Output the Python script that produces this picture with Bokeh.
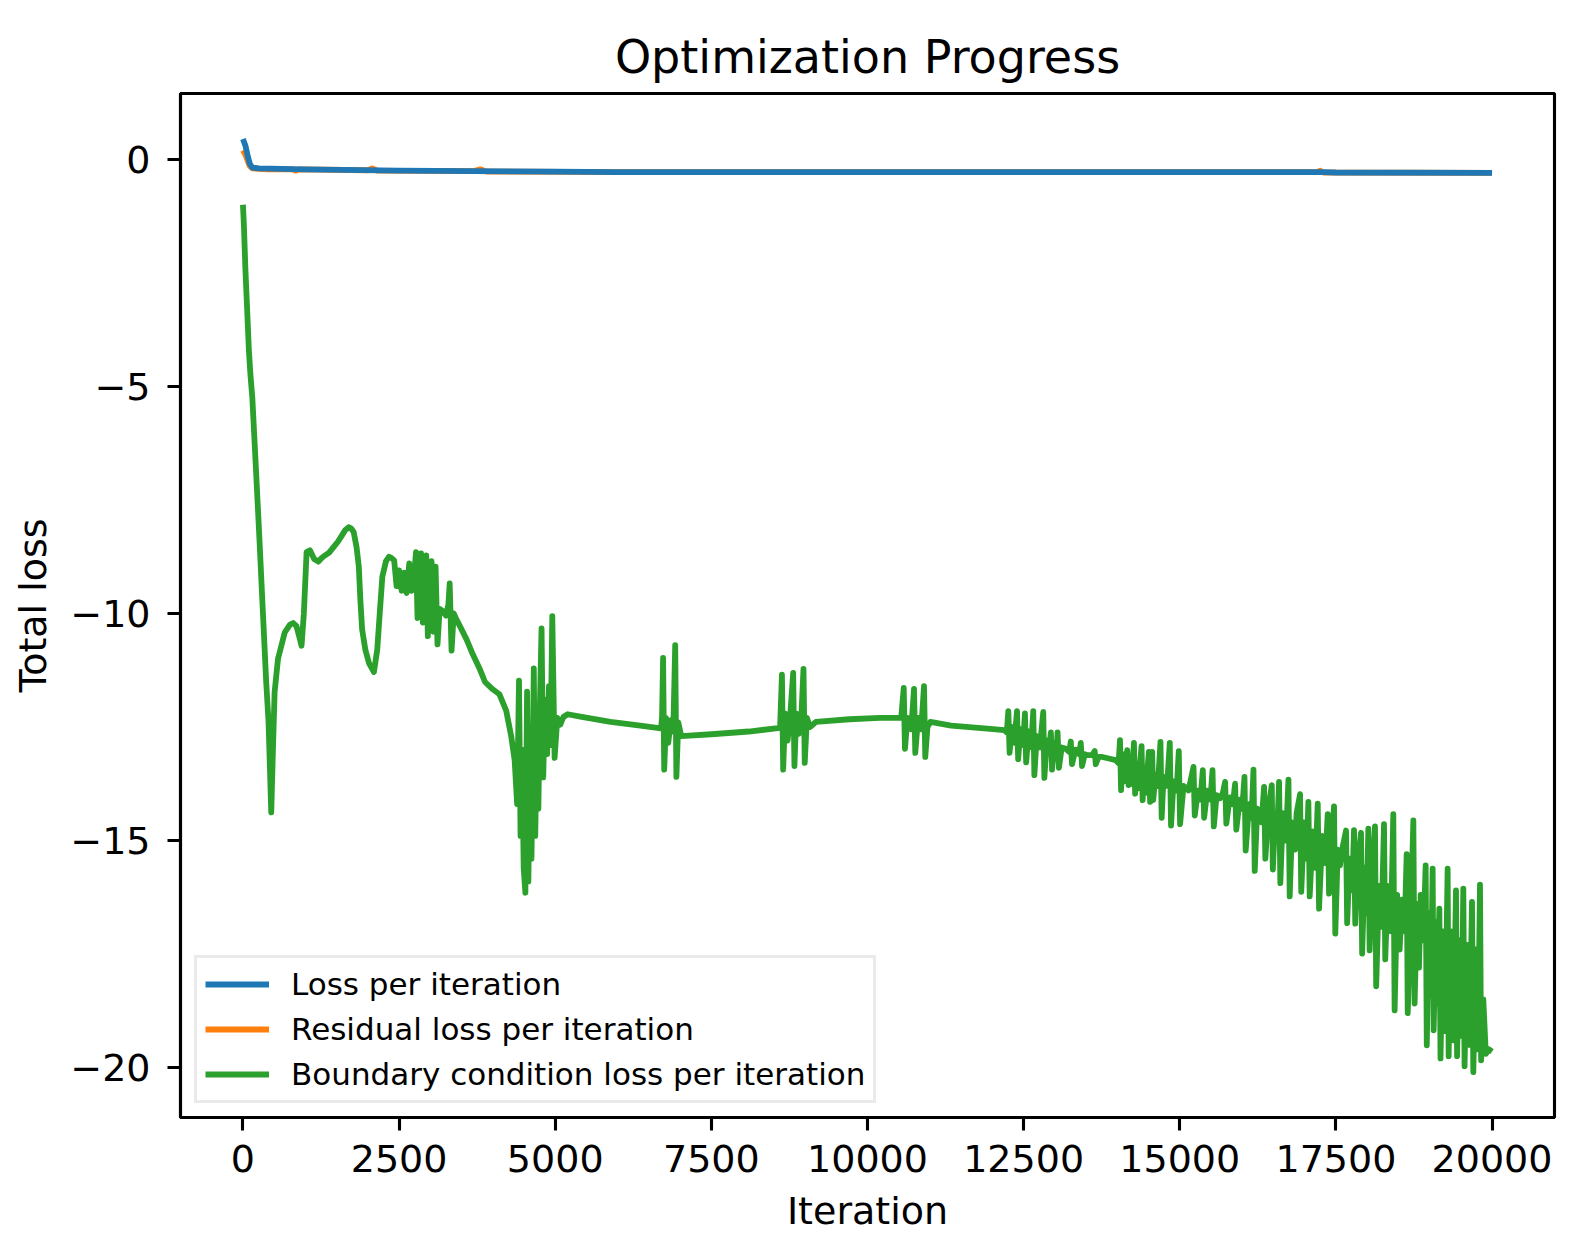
from bokeh.plotting import figure
from bokeh.models import Range1d, FixedTicker, Legend, LegendItem, CustomJSTickFormatter
from bokeh.embed import file_html
from bokeh.resources import INLINE

# ---- data (y = log10 of loss) ----
loss_iter = [0, 40, 80, 110, 150, 250, 1000, 2500, 5000, 6000, 10000, 15000, 17300, 17500, 20000]
loss_vals = [0.45, 0.30, 0.05, -0.10, -0.18, -0.20, -0.22, -0.25, -0.27, -0.28, -0.28, -0.28, -0.28, -0.29, -0.30]

residual_iter = [0, 40, 80, 110, 150, 400, 800, 840, 900, 2000, 2070, 2150, 3700, 3800, 3900, 6000, 17200, 17250, 17300, 20000]
residual_vals = [0.20, 0.10, -0.05, -0.15, -0.20, -0.22, -0.22, -0.25, -0.22, -0.24, -0.20, -0.25, -0.26, -0.22, -0.27, -0.28, -0.28, -0.25, -0.29, -0.30]

bc_iter = [
    0, 15, 40, 70, 95, 120, 150, 200, 260, 320, 372, 410, 453, 480, 507, 561, 669, 750, 804, 857,
    900, 938, 975, 1019, 1073, 1140, 1208, 1260, 1316, 1380, 1450, 1520, 1585, 1640, 1693, 1735, 1774, 1820, 1855, 1880,
    1908, 1960, 2020, 2097, 2150, 2190, 2232, 2290, 2340, 2380, 2421,
    2460, 2500, 2540, 2580, 2620, 2663, 2700, 2740, 2771, 2795, 2825, 2852, 2880, 2910, 2935, 2960, 2990, 3020, 3050, 3084,
    3115, 3150, 3200, 3250, 3290, 3310, 3340, 3375, 3418, 3500, 3580, 3680, 3784, 3876, 3999, 4107, 4215, 4296, 4350,
    4390, 4420, 4445, 4470, 4495, 4522, 4549, 4570, 4595, 4620, 4657, 4680, 4705, 4730, 4755, 4781, 4808, 4835, 4870, 4900,
    4925, 4953, 4990, 5034, 5080, 5131, 5200, 5401, 5886, 6300, 6694,
    6710, 6727, 6745, 6775, 6810, 6850, 6890, 6921, 6940, 6970, 7018, 7500, 8100, 8600,
    8630, 8650, 8680, 8720, 8760, 8810, 8830, 8860, 8900, 8940, 8975, 8995, 9030, 9080, 9173, 9713, 10200, 10540,
    10580, 10600, 10640, 10700, 10745, 10765, 10810, 10860, 10905, 10925, 10960, 11007, 11340, 11869, 12191,
    12230, 12255, 12275, 12310, 12350, 12394, 12412, 12450, 12490, 12521, 12540, 12580, 12620, 12654, 12672, 12710, 12760,
    12814, 12832, 12870, 12900, 12936, 12955, 12990, 13020, 13043, 13065, 13110, 13176, 13230, 13255, 13275, 13330, 13390,
    13415, 13435, 13480, 13521, 13600, 13638, 13655, 13700, 13761, 13880, 13973,
    14020, 14043, 14060, 14085, 14110, 14135, 14160, 14180, 14205, 14230, 14266, 14285, 14310, 14340, 14365, 14388, 14405,
    14430, 14460, 14485, 14505, 14525, 14558, 14575, 14610, 14650, 14691, 14710, 14740, 14780, 14810, 14840, 14860, 14900,
    14950, 14984, 15005, 15060, 15113,
    15140, 15220, 15240, 15290, 15330, 15369, 15390, 15440, 15490, 15524, 15545, 15590, 15646, 15690, 15726, 15745, 15800,
    15850, 15886, 15905, 15960, 16000, 16036, 16055, 16110, 16150, 16180, 16200, 16240, 16276, 16310, 16350, 16370, 16420,
    16473, 16490, 16530, 16560, 16590, 16610, 16650, 16700, 16740, 16760, 16800, 16846, 16870, 16926, 16945, 16990, 17030,
    17059, 17080, 17130, 17170, 17209, 17230, 17280, 17330, 17369, 17390, 17430, 17470, 17490, 17530, 17566,
    17600, 17662, 17680, 17720, 17760, 17790, 17810, 17850, 17902, 17920, 17960, 17990, 18019, 18040, 18080, 18126, 18145,
    18190, 18230, 18270, 18290, 18330, 18380, 18419, 18440, 18480, 18520, 18560, 18600, 18633, 18650, 18700, 18740, 18760,
    18800, 18830, 18857, 18900, 18937, 18955, 18990, 19020, 19049, 19065, 19100, 19130, 19156, 19175, 19210, 19250, 19289,
    19305, 19340, 19380, 19423, 19440, 19480, 19510, 19540, 19560, 19600, 19640, 19679, 19700, 19740, 19775, 19807, 19825,
    19860, 19900, 19950, 20000,
]
bc_vals = [
    -1.00, -1.45, -2.45, -3.40, -4.20, -4.75, -5.25, -6.60, -8.25, -10.00, -11.50, -12.40, -14.38, -13.00, -11.73, -11.00, -10.42, -10.25, -10.21, -10.28,
    -10.50, -10.71, -10.00, -8.65, -8.61, -8.80, -8.86, -8.78, -8.72, -8.66, -8.54, -8.42, -8.28, -8.16, -8.10, -8.13, -8.21, -8.55, -8.97, -9.70,
    -10.35, -10.80, -11.10, -11.29, -10.80, -10.00, -9.19, -8.85, -8.75, -8.78, -8.83,
    -9.40, -9.05, -9.50, -9.10, -9.55, -8.90, -9.50, -9.15, -8.65, -10.10, -9.20, -8.68, -10.20, -9.10, -8.72, -10.50, -9.30, -8.85, -10.40, -8.97,
    -10.68, -9.90, -9.95, -10.05, -9.80, -9.34, -10.82, -10.00, -10.13, -10.35, -10.57, -10.90, -11.20, -11.51, -11.67, -11.78, -12.14, -12.71, -13.23,
    -14.20, -11.48, -14.90, -13.00, -15.60, -16.15, -11.72, -15.90, -13.20, -15.40, -11.21, -14.90, -12.70, -14.30, -12.00, -10.33, -13.61, -11.90, -13.10, -11.60,
    -12.90, -10.06, -13.18, -12.30, -12.45, -12.28, -12.22, -12.27, -12.39, -12.46, -12.53,
    -12.30, -10.98, -13.44, -12.30, -12.85, -12.35, -12.60, -10.70, -13.60, -12.40, -12.70, -12.66, -12.60, -12.52,
    -11.35, -13.44, -12.20, -12.80, -12.30, -11.31, -13.36, -12.20, -12.65, -12.30, -11.22, -13.29, -12.30, -12.50, -12.39, -12.33, -12.30, -12.30,
    -11.64, -12.98, -12.30, -12.55, -11.66, -13.07, -12.30, -12.55, -11.60, -13.16, -12.50, -12.39, -12.47, -12.53, -12.57,
    -12.62, -12.15, -13.07, -12.50, -12.85, -12.15, -13.21, -12.55, -12.90, -12.20, -13.28, -12.60, -12.95, -12.15, -13.56, -12.70, -12.95,
    -12.17, -13.62, -12.80, -13.05, -12.62, -13.44, -12.85, -13.20, -12.62, -13.40, -12.95, -12.98, -13.05, -12.82, -13.32, -13.00, -13.10,
    -12.85, -13.36, -13.10, -13.12, -13.12, -13.03, -13.32, -13.16, -13.16, -13.20, -13.23,
    -13.30, -12.79, -13.89, -13.10, -13.70, -13.20, -13.01, -13.78, -13.20, -13.75, -12.85, -13.97, -13.30, -13.85, -13.30, -12.92, -14.11,
    -13.40, -13.95, -13.40, -13.05, -14.15, -13.05, -14.11, -13.55, -13.80, -12.83, -14.50, -13.60, -13.80, -13.50, -12.85, -14.67, -13.70,
    -13.90, -13.03, -14.64, -13.80, -13.85,
    -13.90, -13.38, -14.45, -13.90, -14.10, -13.45, -14.50, -13.90, -14.10, -13.45, -14.69, -14.00, -14.07, -13.95, -13.71, -14.63, -14.05,
    -14.20, -13.75, -14.76, -14.10, -14.30, -13.60, -15.22, -14.20, -14.50, -13.44, -15.67, -14.30, -14.37, -14.60, -13.82, -15.40, -14.30,
    -13.78, -15.64, -14.40, -14.80, -13.71, -15.94, -14.40, -15.00, -13.66, -16.23, -14.60, -15.20, -14.40, -13.98, -16.13, -14.60, -15.40,
    -14.15, -16.23, -14.80, -15.60, -14.19, -16.50, -14.90, -15.50, -14.42, -16.17, -15.00, -14.25, -17.05, -15.20, -15.55,
    -15.20, -14.78, -16.82, -15.40, -16.10, -14.77, -16.83, -15.50, -14.83, -17.49, -15.60, -16.60, -14.74, -17.42, -15.80, -14.69, -18.21,
    -16.00, -16.90, -14.64, -17.62, -16.00, -17.00, -14.42, -18.74, -16.20, -17.40, -16.30, -17.00, -15.30, -18.80, -16.60, -14.56, -18.59,
    -16.40, -17.80, -16.20, -17.20, -15.55, -19.51, -16.60, -18.40, -15.62, -19.18, -16.80, -18.60, -16.50, -19.80, -17.00, -19.20, -15.62,
    -19.75, -17.00, -19.40, -16.10, -19.75, -17.20, -19.30, -16.06, -19.97, -17.30, -19.50, -16.35, -20.10, -17.40, -19.60, -15.97, -19.84,
    -18.50, -19.70, -19.60, -19.65,
]

x_ticks = [0, 2500, 5000, 7500, 10000, 12500, 15000, 17500, 20000]
y_ticks = [0, -5, -10, -15, -20]

FONT = "DejaVu Sans"
BLUE, ORANGE, GREEN = "#1f77b4", "#ff7f0e", "#2ca02c"

p = figure(
    frame_width=1374, frame_height=1024,
    min_border_left=180, min_border_right=14, min_border_top=93, min_border_bottom=121,
    x_range=Range1d(-1000, 21000), y_range=Range1d(-21.1, 1.45),
    output_backend="svg", toolbar_location=None,
    title="Optimization Progress",
)
p.background_fill_color = "white"
p.border_fill_color = "white"
p.outline_line_color = "black"
p.outline_line_width = 3.1
p.xgrid.grid_line_color = None
p.ygrid.grid_line_color = None

p.title.text_font = FONT
p.title.text_font_size = "46px"
p.title.text_font_style = "normal"
p.title.align = "center"
p.title.text_color = "black"
p.title.standoff = 20

for ax in (p.xaxis[0], p.yaxis[0]):
    ax.axis_line_width = 3.1
    ax.axis_line_color = "black"
    ax.major_tick_line_width = 3.1
    ax.major_tick_line_color = "black"
    ax.major_tick_out = 13
    ax.major_tick_in = 0
    ax.minor_tick_line_color = None
    ax.major_label_text_font = FONT
    ax.major_label_text_font_size = "38px"
    ax.major_label_text_color = "black"
    ax.axis_label_text_font = FONT
    ax.axis_label_text_font_size = "38px"
    ax.axis_label_text_font_style = "normal"
    ax.axis_label_text_color = "black"

p.xaxis.ticker = FixedTicker(ticks=x_ticks)
p.yaxis.ticker = FixedTicker(ticks=y_ticks)
p.yaxis.formatter = CustomJSTickFormatter(code="return tick < 0 ? '\u2212' + Math.abs(tick) : String(tick);")
p.xaxis.formatter = CustomJSTickFormatter(code="return String(tick);")
p.xaxis.axis_label = "Iteration"
p.yaxis.axis_label = "Total loss"
p.xaxis.major_label_standoff = 14
p.yaxis.major_label_standoff = 17
p.xaxis.axis_label_standoff = 14
p.yaxis.axis_label_standoff = 12

lw = 5.8
r_res = p.line(residual_iter, residual_vals, line_color=ORANGE, line_width=lw, line_join="round")
r_loss = p.line(loss_iter, loss_vals, line_color=BLUE, line_width=lw, line_join="round")
r_bc = p.line(bc_iter, bc_vals, line_color=GREEN, line_width=lw, line_join="round")

legend = Legend(items=[
    LegendItem(label="Loss per iteration", renderers=[r_loss]),
    LegendItem(label="Residual loss per iteration", renderers=[r_res]),
    LegendItem(label="Boundary condition loss per iteration", renderers=[r_bc]),
], location="bottom_left")
legend.margin = 14
legend.padding = 8
legend.spacing = 9
legend.label_text_font = FONT
legend.label_text_font_size = "31px"
legend.label_text_color = "black"
legend.glyph_width = 64
legend.glyph_height = 36
legend.label_height = 36
legend.label_standoff = 22
legend.border_line_color = "#d6d6d6"
legend.border_line_width = 3.5
legend.background_fill_color = "white"
legend.background_fill_alpha = 0.8
p.add_layout(legend, "center")

open("out.html", "w").write(file_html(p, INLINE))
